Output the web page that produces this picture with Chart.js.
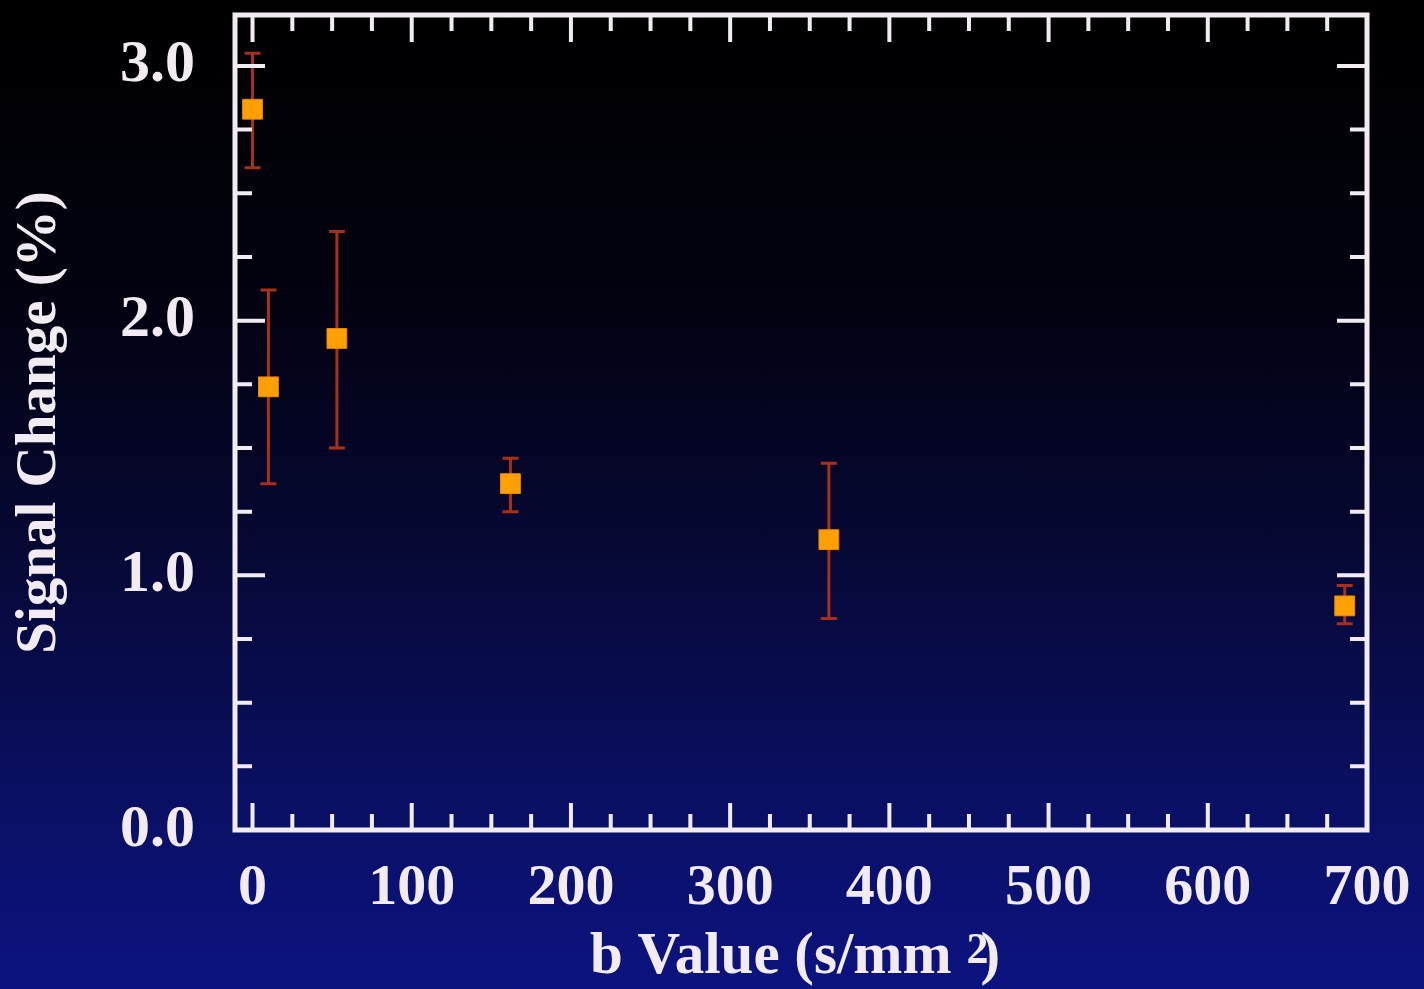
<!DOCTYPE html>
<html>
<head>
<meta charset="utf-8">
<script src="https://cdn.jsdelivr.net/npm/chart.js@4"></script>
<style>
  html, body { margin: 0; padding: 0; }
  body {
    width: 1424px; height: 989px; overflow: hidden;
    background: linear-gradient(to bottom, #000000 0%, #020210 30%, #060833 55%, #0a0f62 80%, #0c1380 100%);
  }
  canvas { display: block; }
</style>
</head>
<body>
<canvas id="chart" width="1424" height="989"></canvas>
<script>
const bValues = [0, 10, 53, 162, 362, 686];
const signalChange = [2.83, 1.74, 1.93, 1.36, 1.14, 0.88];
const errorLow = [2.60, 1.36, 1.50, 1.25, 0.83, 0.81];
const errorHigh = [3.05, 2.12, 2.35, 1.46, 1.44, 0.96];
const xTickValues = [0, 100, 200, 300, 400, 500, 600, 700];
const yTickValues = [0, 1, 2, 3];

const textColor = '#f2ecf2';
const fontFamily = "'Liberation Serif', 'DejaVu Serif', serif";

// error bars, drawn under the square markers
const errorBars = {
  id: 'errorBars',
  beforeDatasetsDraw(chart) {
    const { ctx, scales: { x, y } } = chart;
    ctx.save();
    ctx.strokeStyle = '#a8301a';
    ctx.lineWidth = 3;
    bValues.forEach((b, i) => {
      const px = x.getPixelForValue(b);
      const top = y.getPixelForValue(errorHigh[i]);
      const bot = y.getPixelForValue(errorLow[i]);
      ctx.beginPath();
      ctx.moveTo(px, top); ctx.lineTo(px, bot);
      ctx.moveTo(px - 8, top); ctx.lineTo(px + 8, top);
      ctx.moveTo(px - 8, bot); ctx.lineTo(px + 8, bot);
      ctx.stroke();
    });
    ctx.restore();
  }
};

// white box with inward ticks on all four sides
const frameTicks = {
  id: 'frameTicks',
  afterDraw(chart) {
    const { ctx, chartArea: a, scales: { x, y } } = chart;
    ctx.save();
    ctx.strokeStyle = textColor;
    ctx.lineWidth = 4;
    ctx.beginPath();
    for (let v = 0; v <= 700; v += 25) {
      const px = x.getPixelForValue(v);
      const len = v % 100 === 0 ? 27 : 16;
      ctx.moveTo(px, a.bottom); ctx.lineTo(px, a.bottom - len);
      ctx.moveTo(px, a.top); ctx.lineTo(px, a.top + len);
    }
    for (let v = 0; v <= 3.2; v += 0.25) {
      const py = y.getPixelForValue(v);
      const len = Math.abs(v - Math.round(v)) < 1e-6 ? 30 : 17;
      ctx.moveTo(a.left, py); ctx.lineTo(a.left + len, py);
      ctx.moveTo(a.right, py); ctx.lineTo(a.right - len, py);
    }
    ctx.stroke();
    ctx.lineWidth = 5;
    ctx.strokeRect(a.left, a.top, a.right - a.left, a.bottom - a.top);

    // x axis title with the raised "2"
    ctx.fillStyle = textColor;
    ctx.textBaseline = 'alphabetic';
    ctx.textAlign = 'left';
    const main = 'b Value (s/mm ';
    ctx.font = `bold 59px ${fontFamily}`;
    const wMain = ctx.measureText(main).width;
    const wParen = ctx.measureText(')').width;
    ctx.font = `bold 44px ${fontFamily}`;
    const wTwo = ctx.measureText('2').width;
    const total = wMain + wTwo + wParen - 8;
    let tx = (a.left + a.right) / 2 - total / 2 - 6;
    const base = 973;
    ctx.font = `bold 59px ${fontFamily}`;
    ctx.fillText(main, tx, base);
    tx += wMain;
    ctx.font = `bold 44px ${fontFamily}`;
    ctx.fillText('2', tx, base - 10);
    tx += wTwo - 8;
    ctx.font = `bold 59px ${fontFamily}`;
    ctx.fillText(')', tx, base);
    ctx.restore();
  }
};

new Chart(document.getElementById('chart'), {
  type: 'scatter',
  data: {
    datasets: [{
      label: 'Signal Change',
      data: bValues.map((b, i) => ({ x: b, y: signalChange[i] })),
      pointStyle: 'rect',
      pointRadius: 14,
      backgroundColor: '#ffa000',
      borderColor: '#f08a00',
      borderWidth: 1
    }]
  },
  options: {
    responsive: false,
    animation: false,
    layout: { padding: { top: 12, right: 57, left: 0, bottom: 0 } },
    plugins: { legend: { display: false }, tooltip: { enabled: false } },
    scales: {
      x: {
        type: 'linear',
        min: -11,
        max: 700,
        afterFit: s => { s.height = 159; s.paddingLeft = 0; s.paddingRight = 0; },
        afterBuildTicks: s => { s.ticks = xTickValues.map(v => ({ value: v })); },
        grid: { display: false, drawTicks: false },
        border: { display: false },
        ticks: {
          color: textColor,
          padding: 24,
          maxRotation: 0,
          font: { family: fontFamily, size: 58, weight: 'bold' }
        }
      },
      y: {
        min: 0,
        max: 3.2,
        afterFit: s => { s.width = 235; s.paddingTop = 0; s.paddingBottom = 0; },
        afterBuildTicks: s => { s.ticks = yTickValues.map(v => ({ value: v })); },
        grid: { display: false, drawTicks: false },
        border: { display: false },
        ticks: {
          color: textColor,
          padding: 40,
          callback: v => v.toFixed(1),
          font: { family: fontFamily, size: 60, weight: 'bold' }
        },
        title: {
          display: true,
          text: 'Signal Change (%)',
          color: textColor,
          padding: { top: 6, bottom: 0 },
          font: { family: fontFamily, size: 57, weight: 'bold' }
        }
      }
    }
  },
  plugins: [errorBars, frameTicks]
});
</script>
</body>
</html>
